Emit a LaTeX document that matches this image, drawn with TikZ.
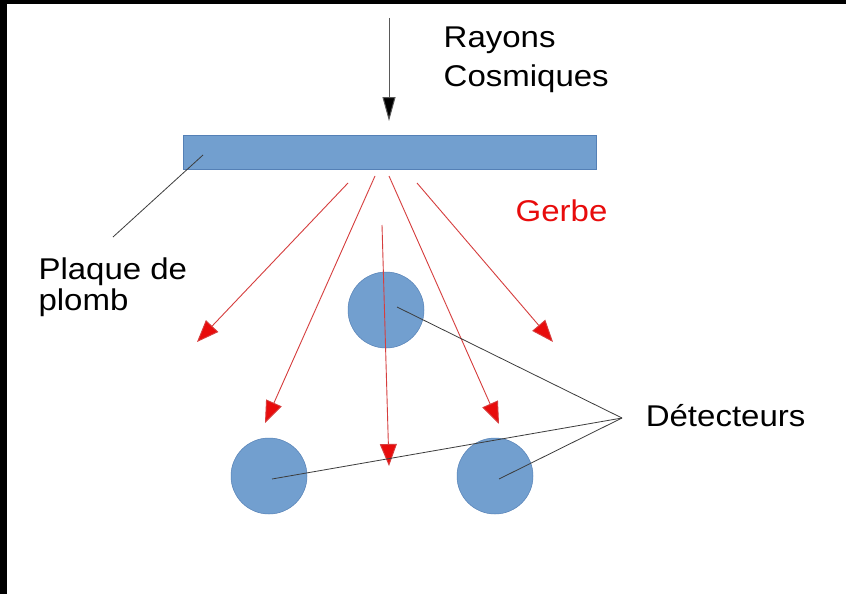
\documentclass[tikz,border=0pt]{standalone}
\usepackage{fontspec}
\setmainfont{Liberation Sans}[FakeStretch=1.1]
\usetikzlibrary{arrows.meta}

\definecolor{plate}{RGB}{114,159,207}
\definecolor{plateedge}{RGB}{84,128,182}
\definecolor{shower}{RGB}{232,12,12}
\definecolor{showerline}{RGB}{214,62,62}
\definecolor{leader}{RGB}{60,60,60}

% two stacked lines whose baseline is the first one
\newcommand{\twolines}[3]{\vtop{\baselineskip=#3\hbox{#1}\hbox{#2}}}

\tikzset{
  label text/.style={inner sep=0pt, anchor=base west, font=\fontsize{30}{36}\selectfont},
  detector/.style={circle, fill=plate, draw=plateedge, line width=0.5pt,
                   minimum size=76pt, inner sep=0pt},
  ray/.style={draw=showerline, line width=0.9pt,
              -{Triangle[length=22pt,width=17pt,fill=shower]}, shorten >=0pt},
  leader line/.style={draw=leader, line width=0.8pt},
  cosmic/.style={draw=black!65, line width=1pt,
                 -{Triangle[length=24pt,width=13pt,fill=black]}}
}

\begin{document}
\begin{tikzpicture}[x=1pt, y=-1pt]
  \useasboundingbox (0,0) rectangle (846,594);
  \fill[white] (0,0) rectangle (846,594);
  % dark frame strips along the left and top edges
  \fill[black] (0,0) rectangle (7,594);
  \fill[black] (0,0) rectangle (846,4);

  % lead plate
  \node[draw=plateedge, fill=plate, line width=0.5pt, inner sep=0pt,
        minimum width=413pt, minimum height=34pt] (plaque) at (389.5,152) {};

  % incoming cosmic rays
  \coordinate (sky) at (389,18);
  \coordinate (hit) at (389,121);
  \draw[cosmic] (sky) -- (hit);
  \node[label text] (rayons) at (443.5,48) {\twolines{Rayons}{Cosmiques}{38.5pt}};

  % detectors
  \node[detector] (d1) at (386,310) {};
  \node[detector] (d2) at (269,476) {};
  \node[detector] (d3) at (495,476) {};

  % shower particles
  \coordinate (s1) at (348,183);   \coordinate (e1) at (197,342);
  \coordinate (s2) at (375,176);   \coordinate (e2) at (265,423);
  \coordinate (s3) at (382,225);   \coordinate (e3) at (389,466);
  \coordinate (s4) at (389,176);   \coordinate (e4) at (499,424);
  \coordinate (s5) at (417,183);   \coordinate (e5) at (553,342);
  \foreach \i in {1,...,5} { \draw[ray] (s\i) -- (e\i); }
  \node[label text, text=shower] (gerbe) at (515.5,221.7) {Gerbe};

  % label for the plate
  \coordinate (pb) at (203,155);
  \coordinate (pbend) at (113,237);
  \draw[leader line] (pb) -- (pbend);
  \node[label text] (plomb) at (38.3,279.3) {\twolines{Plaque de}{plomb}{31.6pt}};

  % label for the detectors
  \coordinate (apex) at (622,418);
  \coordinate (p1) at (397,307);
  \coordinate (p2) at (272,479);
  \coordinate (p3) at (499,479);
  \foreach \p in {p1,p2,p3} { \draw[leader line] (apex) -- (\p); }
  \node[label text] (detect) at (645.6,426.7) {Détecteurs};
\end{tikzpicture}
\end{document}
